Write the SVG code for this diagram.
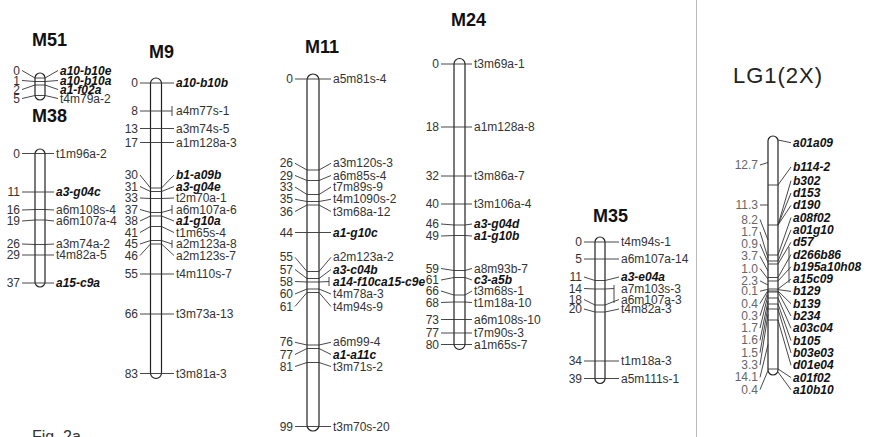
<svg xmlns="http://www.w3.org/2000/svg" width="869" height="437" viewBox="0 0 869 437">
<style>
text{font-family:"Liberation Sans",Arial,sans-serif}
.t{font-size:18px;font-weight:bold;fill:#111}
.n{font-size:12px;fill:#333;text-anchor:end}
.l{font-size:12px;fill:#333}
.b{font-weight:bold;font-style:italic;fill:#111}
.g{fill:#666}
.c{fill:#fff;stroke:#222;stroke-width:1.2}
.k{fill:none;stroke:#333;stroke-width:0.9}
</style>
<rect width="869" height="437" fill="#fff"/>
<line x1="696.5" y1="0" x2="696.5" y2="437" stroke="#bbb"/>

<g id="M51">
<text class="t" x="32" y="46">M51</text>
<rect class="c" x="35" y="73" width="10" height="27" rx="5"/>
<text class="n" x="20" y="74.5">0</text><text class="n" x="20" y="84.5">1</text><text class="n" x="20" y="93.5">2</text><text class="n" x="20" y="102.5">5</text>
<text class="l b" x="60" y="74.5">a10-b10e</text><text class="l b" x="60" y="84.5">a10-b10a</text><text class="l b" x="60" y="93.5">a1-f02a</text><text class="l" x="60" y="102.5">t4m79a-2</text>
</g>

<g id="M38">
<text class="t" x="32" y="122">M38</text>
<rect class="c" x="35" y="149" width="10" height="138" rx="5"/>
<text class="n" x="20" y="157.5">0</text><text class="n" x="20" y="196">11</text><text class="n" x="20" y="214">16</text><text class="n" x="20" y="225">19</text><text class="n" x="20" y="248">26</text><text class="n" x="20" y="259">29</text><text class="n" x="20" y="287">37</text>
<text class="l" x="56" y="157.5">t1m96a-2</text><text class="l b" x="56" y="196">a3-g04c</text><text class="l" x="56" y="214">a6m108s-4</text><text class="l" x="56" y="225">a6m107a-4</text><text class="l" x="56" y="248">a3m74a-2</text><text class="l" x="56" y="259">t4m82a-5</text><text class="l b" x="56" y="287">a15-c9a</text>
</g>

<g id="M9">
<text class="t" x="149" y="58">M9</text>
<rect class="c" x="150.5" y="78" width="11" height="300.5" rx="5.5"/>
<text class="n" x="138" y="87">0</text><text class="n" x="138" y="115">8</text><text class="n" x="138" y="132.5">13</text><text class="n" x="138" y="146.5">17</text><text class="n" x="138" y="179">30</text><text class="n" x="138" y="190.5">31</text><text class="n" x="138" y="202">33</text><text class="n" x="138" y="213.5">37</text><text class="n" x="138" y="225">38</text><text class="n" x="138" y="236.5">41</text><text class="n" x="138" y="248">45</text><text class="n" x="138" y="259.5">46</text><text class="n" x="138" y="278">55</text><text class="n" x="138" y="318">66</text><text class="n" x="138" y="377.5">83</text>
<text class="l b" x="176" y="87">a10-b10b</text><text class="l" x="176" y="115">a4m77s-1</text><text class="l" x="176" y="132.5">a3m74s-5</text><text class="l" x="176" y="146.5">a1m128a-3</text><text class="l b" x="176" y="179">b1-a09b</text><text class="l b" x="176" y="190.5">a3-g04e</text><text class="l" x="176" y="202">t2m70a-1</text><text class="l" x="176" y="213.5">a6m107a-6</text><text class="l b" x="176" y="225">a1-g10a</text><text class="l" x="176" y="236.5">t1m65s-4</text><text class="l" x="176" y="248">a2m123a-8</text><text class="l" x="176" y="259.5">a2m123s-7</text><text class="l" x="176" y="278">t4m110s-7</text><text class="l" x="176" y="318">t3m73a-13</text><text class="l" x="176" y="377.5">t3m81a-3</text>
</g>

<g id="M11">
<text class="t" x="305" y="53">M11</text>
<rect class="c" x="307" y="74" width="12" height="357" rx="6"/>
<text class="n" x="293" y="83">0</text><text class="n" x="293" y="167.3">26</text><text class="n" x="293" y="179.5">29</text><text class="n" x="293" y="191">33</text><text class="n" x="293" y="203.3">35</text><text class="n" x="293" y="215.5">36</text><text class="n" x="293" y="236.5">44</text><text class="n" x="293" y="261.3">55</text><text class="n" x="293" y="273.5">57</text><text class="n" x="293" y="285.5">58</text><text class="n" x="293" y="298">60</text><text class="n" x="293" y="310.5">61</text><text class="n" x="293" y="346.3">76</text><text class="n" x="293" y="358.5">77</text><text class="n" x="293" y="370.5">81</text><text class="n" x="293" y="430.5">99</text>
<text class="l" x="333" y="83">a5m81s-4</text><text class="l" x="333" y="167.3">a3m120s-3</text><text class="l" x="333" y="179.5">a6m85s-4</text><text class="l" x="333" y="191">t7m89s-9</text><text class="l" x="333" y="203.3">t4m1090s-2</text><text class="l" x="333" y="215.5">t3m68a-12</text><text class="l b" x="333" y="236.5">a1-g10c</text><text class="l" x="333" y="261.3">a2m123a-2</text><text class="l b" x="333" y="273.5">a3-c04b</text><text class="l b" x="333" y="285.5">a14-f10ca15-c9e</text><text class="l" x="333" y="298">t4m78a-3</text><text class="l" x="333" y="310.5">t4m94s-9</text><text class="l" x="333" y="346.3">a6m99-4</text><text class="l b" x="333" y="358.5">a1-a11c</text><text class="l" x="333" y="370.5">t3m71s-2</text><text class="l" x="333" y="430.5">t3m70s-20</text>
</g>

<g id="M24">
<text class="t" x="451" y="26">M24</text>
<rect class="c" x="454" y="58.5" width="11" height="291" rx="5.5"/>
<text class="n" x="439" y="68">0</text><text class="n" x="439" y="131">18</text><text class="n" x="439" y="180">32</text><text class="n" x="439" y="208">40</text><text class="n" x="439" y="228">46</text><text class="n" x="439" y="240">49</text><text class="n" x="439" y="272.5">59</text><text class="n" x="439" y="284">61</text><text class="n" x="439" y="295">66</text><text class="n" x="439" y="306.5">68</text><text class="n" x="439" y="323.5">73</text><text class="n" x="439" y="337">77</text><text class="n" x="439" y="348.5">80</text>
<text class="l" x="474" y="68">t3m69a-1</text><text class="l" x="474" y="131">a1m128a-8</text><text class="l" x="474" y="180">t3m86a-7</text><text class="l" x="474" y="208">t3m106a-4</text><text class="l b" x="474" y="228">a3-g04d</text><text class="l b" x="474" y="240">a1-g10b</text><text class="l" x="474" y="272.5">a8m93b-7</text><text class="l b" x="474" y="284">c3-a5b</text><text class="l" x="474" y="295">t3m68s-1</text><text class="l" x="474" y="306.5">t1m18a-10</text><text class="l" x="474" y="323.5">a6m108s-10</text><text class="l" x="474" y="337">t7m90s-3</text><text class="l" x="474" y="348.5">a1m65s-7</text>
</g>

<g id="M35">
<text class="t" x="593" y="222">M35</text>
<rect class="c" x="595" y="237" width="10" height="146.5" rx="5"/>
<text class="n" x="582" y="246">0</text><text class="n" x="582" y="263">5</text><text class="n" x="582" y="281">11</text><text class="n" x="582" y="292.5">14</text><text class="n" x="582" y="303.5">18</text><text class="n" x="582" y="313">20</text><text class="n" x="582" y="365">34</text><text class="n" x="582" y="382.5">39</text>
<text class="l" x="621" y="246">t4m94s-1</text><text class="l" x="621" y="263">a6m107a-14</text><text class="l b" x="621" y="281">a3-e04a</text><text class="l" x="621" y="292.5">a7m103s-3</text><text class="l" x="621" y="303.5">a6m107a-3</text><text class="l" x="621" y="313">t4m82a-3</text><text class="l" x="621" y="365">t1m18a-3</text><text class="l" x="621" y="382.5">a5m111s-1</text>
</g>

<g id="LG1">
<text x="733" y="83" font-size="22" fill="#222" textLength="89">LG1(2X)</text>
<rect class="c" x="768" y="136" width="10" height="239" rx="5"/>
<g class="n g">
<text x="758" y="169">12.7</text><text x="758" y="209">11.3</text><text x="758" y="223.5">8.2</text><text x="758" y="235.8">1.7</text><text x="758" y="248">0.9</text><text x="758" y="260.3">3.7</text><text x="758" y="272.6">1.0</text><text x="758" y="284.9">2.3</text><text x="758" y="295.2">0.1</text><text x="758" y="307.5">0.4</text><text x="758" y="319.8">0.3</text><text x="758" y="332.1">1.7</text><text x="758" y="344.4">1.6</text><text x="758" y="356.7">1.5</text><text x="758" y="369">3.3</text><text x="758" y="381.3">14.1</text><text x="758" y="393.6">0.4</text>
</g>
<g class="l b">
<text x="793" y="146.7">a01a09</text><text x="793" y="171">b114-2</text><text x="793" y="184.7">b302</text><text x="793" y="197">d153</text><text x="793" y="209.3">d190</text><text x="793" y="221.6">a08f02</text><text x="793" y="233.9">a01g10</text><text x="793" y="246.2">d57</text><text x="793" y="258.5">d266b86</text><text x="793" y="270.8">b195a10h08</text><text x="793" y="283.1">a15c09</text><text x="793" y="295.4">b129</text><text x="793" y="307.7">b139</text><text x="793" y="320">b234</text><text x="793" y="332.3">a03c04</text><text x="793" y="344.6">b105</text><text x="793" y="356.9">b03e03</text><text x="793" y="369.2">d01e04</text><text x="793" y="381.5">a01f02</text><text x="793" y="393.8">a10b10</text>
</g>
</g>

<text x="32" y="441.5" font-size="16" fill="#333">Fig. 2a</text>

<g id="connectors" class="k">
<g id="M51-ticks">
<polyline points="22,70.5 35,78 45,78 58,70.5"/><polyline points="22,80.5 35,81.5 45,81.5 58,80.5"/><polyline points="22,89.5 35,85 45,85 58,89.5"/><polyline points="22,98.5 35,95.5 45,95.5 58,98.5"/>
</g>
<g id="M38-ticks">
<polyline points="22,153.5 35,153.5 45,153.5 54,153.5"/><polyline points="22,192 54,192"/><polyline points="22,210 35,209.5 45,209.5 54,210"/><polyline points="22,221 35,220 45,220 54,221"/><polyline points="22,244 35,244.5 45,244.5 54,244"/><polyline points="22,255 54,255"/><polyline points="22,283 54,283"/>
</g>
<g id="M9-ticks">
<polyline points="140,83 174,83"/><polyline points="140,111 172,111"/><line x1="172" y1="106" x2="172" y2="116"/><polyline points="140,128.5 174,128.5"/><polyline points="140,142.5 174,142.5"/>
<polyline points="140,175 150.5,188 161.5,188 174,175"/><polyline points="140,186.5 150.5,191.5 161.5,191.5 174,186.5"/><polyline points="140,198 150.5,198.5 161.5,198.5 174,198"/><polyline points="140,209.5 150.5,212.5 161.5,212.5 172,209.5"/><line x1="172" y1="205" x2="172" y2="214"/><polyline points="140,221 150.5,216 161.5,216 174,221"/><polyline points="140,232.5 150.5,226.5 161.5,226.5 174,232.5"/><polyline points="140,244 150.5,240.5 161.5,240.5 172,244"/><line x1="172" y1="240" x2="172" y2="248"/><polyline points="140,255.5 150.5,244 161.5,244 174,255.5"/>
<polyline points="140,274 174,274"/><polyline points="140,314 174,314"/><polyline points="140,373.5 174,373.5"/>
</g>
<g id="M11-ticks">
<polyline points="295,79 331,79"/><polyline points="295,163.3 307,170 319,170 331,163.3"/><polyline points="295,175.5 307,180.5 319,180.5 331,175.5"/><polyline points="295,187 307,194.5 319,194.5 331,187"/><polyline points="295,199.3 307,201.5 319,201.5 331,199.3"/><polyline points="295,211.5 307,205 319,205 331,211.5"/><polyline points="295,232.5 331,232.5"/>
<polyline points="295,257.3 307,271.5 319,271.5 331,257.3"/><polyline points="295,269.5 307,278.5 319,278.5 331,269.5"/><polyline points="295,281.5 307,282 319,282 329,281.5"/><line x1="329" y1="277" x2="329" y2="286"/><polyline points="295,294 307,289 319,289 331,294"/><polyline points="295,306.5 307,292.5 319,292.5 331,306.5"/>
<polyline points="295,342.3 307,345 319,345 331,342.3"/><polyline points="295,354.5 307,348.5 319,348.5 331,354.5"/><polyline points="295,366.5 307,362.5 319,362.5 331,366.5"/><polyline points="295,426.5 331,426.5"/>
</g>
<g id="M24-ticks">
<polyline points="441,64 472,64"/><polyline points="441,127 472,127"/><polyline points="441,176 472,176"/><polyline points="441,204 472,204"/><polyline points="441,224 454,225 465,225 472,224"/><polyline points="441,236 454,235.5 465,235.5 472,236"/>
<polyline points="441,268.5 454,270.5 465,270.5 472,268.5"/><polyline points="441,280 454,277.5 465,277.5 472,280"/><polyline points="441,291 454,295 465,295 472,291"/><polyline points="441,302.5 454,302 465,302 472,302.5"/><polyline points="441,319.5 472,319.5"/><polyline points="441,333 472,333"/><polyline points="441,344.5 472,344.5"/>
</g>
<g id="M35-ticks">
<polyline points="584,242 619,242"/><polyline points="584,259 619,259"/><polyline points="584,277 595,280.5 605,280.5 619,277"/><polyline points="584,288.5 595,289 605,289 614,288.5"/><line x1="614" y1="285" x2="614" y2="303"/><polyline points="584,299.5 595,305 605,305 619,299.5"/><polyline points="584,309 595,312 605,312 619,309"/><polyline points="584,361 619,361"/><polyline points="584,378.5 619,378.5"/>
</g>
<g id="LG1-ticks">
<polyline points="778,140 791,142.7"/><polyline points="778,185 791,167"/><polyline points="778,225 791,180.7"/><polyline points="778,225 791,193"/><polyline points="778,225 791,205.3"/><polyline points="778,255 791,217.6"/><polyline points="778,261 791,229.9"/><polyline points="778,264 791,242.2"/><polyline points="778,277.5 791,254.5"/><polyline points="778,281 791,266.8"/><polyline points="778,289 791,279.1"/><polyline points="778,289.6 791,291.4"/><polyline points="778,291 791,303.7"/><polyline points="778,292 791,316"/><polyline points="778,298 791,328.3"/><polyline points="778,304 791,340.6"/><polyline points="778,309 791,352.9"/><polyline points="778,320 791,365.2"/><polyline points="778,369 791,377.5"/><polyline points="778,372 791,389.8"/>
<line x1="789" y1="247" x2="789" y2="283"/>
<path d="M768,185H778M768,225H778M768,255H778M768,261H778M768,264H778M768,277.5H778M768,281H778M768,289H778M768,291H778M768,292H778M768,298H778M768,304H778M768,309H778M768,320H778M768,369H778"/>
<polyline points="760,165 768,162.5"/><polyline points="760,205 768,205"/><polyline points="760,219.5 768,240"/><polyline points="760,231.8 768,258"/><polyline points="760,244 768,262.5"/><polyline points="760,256.3 768,271"/><polyline points="760,268.6 768,279"/><polyline points="760,280.9 768,285"/><polyline points="760,291.2 768,289.3"/><polyline points="760,303.5 768,290.3"/><polyline points="760,315.8 768,291.5"/><polyline points="760,328.1 768,295"/><polyline points="760,340.4 768,301"/><polyline points="760,352.7 768,306.5"/><polyline points="760,365 768,314.5"/><polyline points="760,377.3 768,344.5"/><polyline points="760,389.6 768,370.5"/>
</g>
</g>
</svg>
